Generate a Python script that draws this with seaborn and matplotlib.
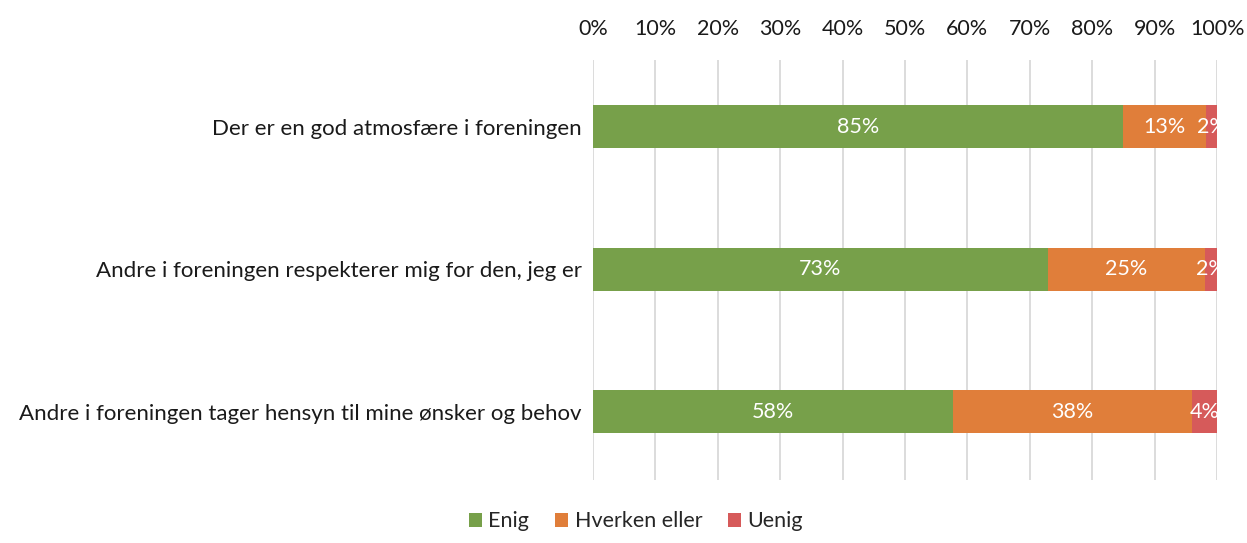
import numpy as np
import pandas as pd
import matplotlib
matplotlib.use("Agg")
import matplotlib.pyplot as plt
import seaborn as sns
from matplotlib.patches import Patch

statements = [
    "Der er en god atmosfære i foreningen",
    "Andre i foreningen respekterer mig for den, jeg er",
    "Andre i foreningen tager hensyn til mine ønsker og behov",
]
enig = [84.9, 72.9, 57.7]
hverken = [13.4, 25.2, 38.3]
uenig = [1.7, 1.9, 4.0]
series_names = ["Enig", "Hverken eller", "Uenig"]
colors = ["#77A04A", "#E07E3A", "#D65A5A"]

sns.set_theme(style="white")
plt.rcParams["font.family"] = ["Lato", "DejaVu Sans"]

df = pd.DataFrame({"statement": statements, "Enig": enig,
                   "Hverken eller": hverken, "Uenig": uenig})
cum = df[series_names].cumsum(axis=1)

fig = plt.figure(figsize=(12.47, 5.43), dpi=100)
ax = fig.add_axes([0.4755, 0.116, 0.5005, 0.774])

# layered drawing: largest cumulative first
for name, color in reversed(list(zip(series_names, colors))):
    sns.barplot(x=cum[name], y=df["statement"], color=color, orient="h",
                width=0.3, ax=ax, saturation=1, linewidth=0, zorder=3)

# value labels
for name in series_names:
    left = cum[name] - df[name]
    for i, (l, v) in enumerate(zip(left, df[name])):
        ax.text(l + v / 2, i, f"{round(v):.0f}%", ha="center", va="center",
                color="white", fontsize=15.5, zorder=4, clip_on=True)

ax.set_xlim(0, 100)
ax.set_ylim(2.48, -0.47)
ax.set_xticks(np.arange(0, 101, 10))
ax.set_xticklabels([f"{t}%" for t in range(0, 101, 10)], fontsize=15.5, color="#1a1a1a")
ax.xaxis.tick_top()
ax.tick_params(axis="x", length=0, pad=15)
ax.tick_params(axis="y", length=0, pad=8, labelsize=16, labelcolor="#1a1a1a")
ax.set_xlabel("")
ax.set_ylabel("")
ax.grid(axis="x", color="#D9D9D9", linewidth=1.3, zorder=0)
ax.grid(axis="y", visible=False)
for s in ax.spines.values():
    s.set_visible(False)

handles = [Patch(facecolor=c, edgecolor="none", label=n) for n, c in zip(series_names, colors)]
fig.legend(handles=handles, loc="center", bbox_to_anchor=(0.51, 0.04), ncol=3,
           frameon=False, fontsize=15.5, handlelength=0.6, handleheight=0.6,
           handletextpad=0.3, columnspacing=1.2)

fig.savefig("out.png", dpi=100)
